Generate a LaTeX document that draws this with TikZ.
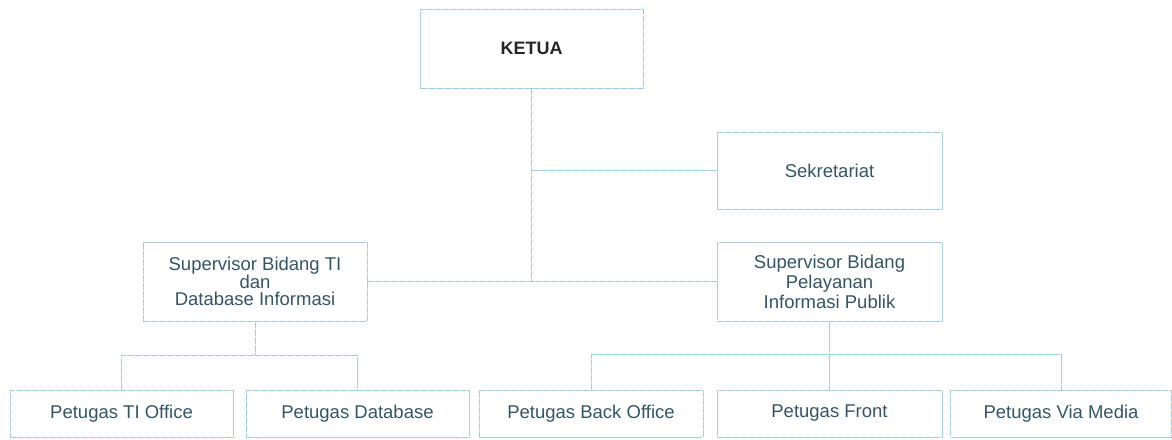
\documentclass[tikz,border=0pt]{standalone}
\usepackage{fontspec}
\setmainfont{Liberation Sans}
\usepackage{tikz}
\usetikzlibrary{calc}
\definecolor{garis}{RGB}{160,206,224}
\definecolor{teks}{RGB}{52,86,100}

\begin{document}
\begin{tikzpicture}[x=1pt, y=-1pt,
    jabatan/.style={draw=garis, line width=0.8pt, dash pattern=on 7pt off 1pt,
      rectangle, align=center, inner sep=0pt, text=teks,
      font=\fontsize{18.5}{20}\selectfont},
    hubung/.style={draw=garis, line width=0.8pt, dash pattern=on 7pt off 1pt}]
  \useasboundingbox (0,0) rectangle (1172,439);
  % pimpinan
  \node[jabatan, minimum width=223pt, minimum height=79pt, text=black!85,
    font=\bfseries\fontsize{18}{20}\selectfont] (ketua) at (531.5,48.5) {KETUA};
  \node[jabatan, minimum width=225pt, minimum height=77pt] (sekretariat) at (829.5,170.5) {Sekretariat};
  % supervisor
  \node[jabatan, minimum width=224pt, minimum height=79pt,
    font=\fontsize{18.5}{16.5}\selectfont] (spvti) at (255,281.5)
    {Supervisor Bidang TI\\dan\\Database Informasi};
  \node[jabatan, minimum width=225pt, minimum height=79pt] (spvpip) at (829.5,281.5)
    {Supervisor Bidang\\Pelayanan\\Informasi Publik};
  % petugas
  \foreach \nama/\x/\w/\isi in {ptio/121.5/223/Petugas TI Office,
      pdb/357.5/223/Petugas Database, pbo/591/224/Petugas Back Office,
      pfront/829.5/225/Petugas Front, pmedia/1061/221/Petugas Via Media} {
    \node[jabatan, minimum width=\w pt, minimum height=47pt] (\nama) at (\x,413.5) {\isi};
  }
  % garis
  \coordinate (simpang) at (ketua.south |- spvti.east);
  \coordinate (busti) at ($(spvti.south)+(0,34)$);
  \coordinate (buspip) at ($(spvpip.south)+(0,33)$);
  \draw[hubung] (ketua.south) -- (simpang);
  \draw[hubung] (ketua.south |- sekretariat.west) -- (sekretariat.west);
  \draw[hubung] (spvti.east) -- (spvpip.west);
  \draw[hubung] (spvti.south) -- (busti);
  \draw[hubung] (ptio.north) |- (busti) -| (pdb.north);
  \draw[hubung] (spvpip.south) -- (buspip);
  \draw[hubung] (pbo.north) |- (buspip) -| (pmedia.north);
  \draw[hubung] (buspip) -- (pfront.north);
\end{tikzpicture}
\end{document}
